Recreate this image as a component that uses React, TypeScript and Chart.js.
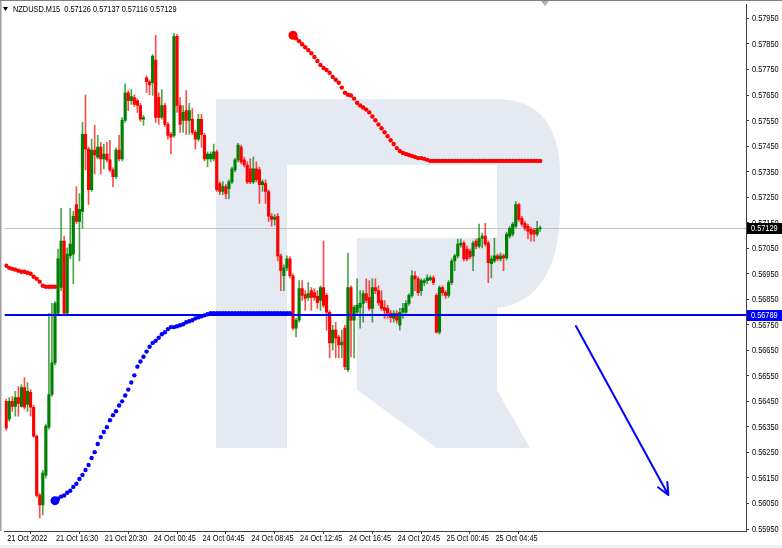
import React, { useEffect, useRef } from "react";
import { Chart, registerables } from "chart.js";

Chart.register(...registerables);

const TITLE = "NZDUSD.M15  0.57126 0.57137 0.57116 0.57129";

const OPEN = [
  0.56450, 0.56380, 0.56450, 0.56430, 0.56465, 0.56430, 0.56504, 0.56438, 0.56485, 0.56427,
  0.56314, 0.56082, 0.56044, 0.56161, 0.56349, 0.56477, 0.56601, 0.56795, 0.56896, 0.57078,
  0.56795, 0.57020, 0.57027, 0.57221, 0.57155, 0.57194, 0.57496, 0.57438, 0.57279, 0.57434,
  0.57407, 0.57446, 0.57400, 0.57419, 0.57396, 0.57357, 0.57330, 0.57434, 0.57400, 0.57551,
  0.57659, 0.57628, 0.57640, 0.57628, 0.57609, 0.57555, 0.57717, 0.57702, 0.57698, 0.57787,
  0.57640, 0.57562, 0.57609, 0.57535, 0.57496, 0.57492, 0.57880, 0.57609, 0.57551, 0.57589,
  0.57551, 0.57555, 0.57504, 0.57477, 0.57555, 0.57492, 0.57400, 0.57400, 0.57400, 0.57427,
  0.57303, 0.57272, 0.57291, 0.57283, 0.57310, 0.57357, 0.57396, 0.57446, 0.57396, 0.57376,
  0.57361, 0.57310, 0.57361, 0.57357, 0.57299, 0.57303, 0.57272, 0.57175, 0.57163, 0.57175,
  0.57020, 0.56942, 0.56973, 0.57008, 0.56942, 0.56737, 0.56768, 0.56892, 0.56868, 0.56857,
  0.56884, 0.56876, 0.56861, 0.56845, 0.56896, 0.56865, 0.56799, 0.56679, 0.56729, 0.56702,
  0.56671, 0.56737, 0.56574, 0.56896, 0.56768, 0.56799, 0.56818, 0.56834, 0.56872, 0.56857,
  0.56814, 0.56896, 0.56884, 0.56845, 0.56818, 0.56814, 0.56795, 0.56775, 0.56795, 0.56748,
  0.56799, 0.56799, 0.56834, 0.56865, 0.56942, 0.56930, 0.56884, 0.56915, 0.56923, 0.56927,
  0.56934, 0.56865, 0.56721, 0.56896, 0.56876, 0.56865, 0.56915, 0.57000, 0.57020, 0.57062,
  0.57070, 0.57047, 0.57039, 0.57020, 0.57078, 0.57058, 0.57089, 0.57097, 0.57070, 0.56989,
  0.57000, 0.57020, 0.57008, 0.57020, 0.57012, 0.57097, 0.57105, 0.57136, 0.57221, 0.57167,
  0.57147, 0.57136, 0.57124, 0.57120, 0.57105, 0.57126,
];

const HIGH = [
  0.56458, 0.56465, 0.56469, 0.56489, 0.56508, 0.56516, 0.56543, 0.56524, 0.56496, 0.56434,
  0.56318, 0.56090, 0.56180, 0.56361, 0.56795, 0.56834, 0.56841, 0.57047, 0.57206, 0.57097,
  0.57051, 0.57206, 0.57194, 0.57291, 0.57264, 0.57543, 0.57651, 0.57446, 0.57477, 0.57531,
  0.57492, 0.57465, 0.57458, 0.57465, 0.57473, 0.57365, 0.57442, 0.57492, 0.57562, 0.57694,
  0.57667, 0.57671, 0.57651, 0.57636, 0.57617, 0.57570, 0.57725, 0.57710, 0.57807, 0.57884,
  0.57659, 0.57671, 0.57617, 0.57543, 0.57504, 0.57892, 0.57888, 0.57640, 0.57609, 0.57667,
  0.57617, 0.57597, 0.57512, 0.57574, 0.57574, 0.57500, 0.57427, 0.57427, 0.57458, 0.57434,
  0.57310, 0.57310, 0.57299, 0.57318, 0.57368, 0.57403, 0.57461, 0.57454, 0.57407, 0.57388,
  0.57400, 0.57407, 0.57388, 0.57368, 0.57318, 0.57318, 0.57279, 0.57186, 0.57182, 0.57186,
  0.57027, 0.56985, 0.57020, 0.57016, 0.56950, 0.56775, 0.56923, 0.56923, 0.56884, 0.56915,
  0.56896, 0.56892, 0.56884, 0.56903, 0.57078, 0.56872, 0.56806, 0.56748, 0.56760, 0.56710,
  0.56729, 0.56748, 0.57031, 0.56903, 0.56826, 0.56930, 0.56884, 0.56884, 0.56930, 0.56923,
  0.56930, 0.56930, 0.56903, 0.56884, 0.56845, 0.56826, 0.56806, 0.56806, 0.56806, 0.56814,
  0.56834, 0.56845, 0.56872, 0.56962, 0.56958, 0.56938, 0.56930, 0.56930, 0.56946, 0.56942,
  0.56942, 0.56872, 0.56903, 0.56903, 0.56884, 0.56923, 0.57008, 0.57027, 0.57086, 0.57086,
  0.57078, 0.57058, 0.57047, 0.57078, 0.57086, 0.57144, 0.57109, 0.57147, 0.57078, 0.57020,
  0.57089, 0.57027, 0.57031, 0.57027, 0.57113, 0.57136, 0.57151, 0.57233, 0.57225, 0.57175,
  0.57155, 0.57144, 0.57132, 0.57128, 0.57155, 0.57137,
];

const LOW = [
  0.56337, 0.56372, 0.56411, 0.56392, 0.56392, 0.56427, 0.56419, 0.56411, 0.56392, 0.56310,
  0.56075, 0.55993, 0.56005, 0.56149, 0.56341, 0.56469, 0.56593, 0.56787, 0.56884, 0.56787,
  0.56787, 0.57008, 0.56911, 0.57147, 0.57000, 0.57128, 0.57357, 0.57221, 0.57272, 0.57341,
  0.57400, 0.57341, 0.57361, 0.57388, 0.57349, 0.57291, 0.57322, 0.57392, 0.57392, 0.57543,
  0.57589, 0.57613, 0.57605, 0.57582, 0.57547, 0.57531, 0.57659, 0.57651, 0.57648, 0.57543,
  0.57535, 0.57555, 0.57527, 0.57477, 0.57419, 0.57485, 0.57582, 0.57504, 0.57504, 0.57496,
  0.57496, 0.57496, 0.57438, 0.57469, 0.57446, 0.57392, 0.57368, 0.57388, 0.57392, 0.57272,
  0.57260, 0.57260, 0.57244, 0.57244, 0.57303, 0.57349, 0.57388, 0.57380, 0.57368, 0.57303,
  0.57303, 0.57303, 0.57310, 0.57225, 0.57272, 0.57225, 0.57155, 0.57136, 0.57140, 0.57000,
  0.56884, 0.56884, 0.56962, 0.56934, 0.56729, 0.56702, 0.56760, 0.56845, 0.56806, 0.56845,
  0.56806, 0.56845, 0.56814, 0.56806, 0.56818, 0.56729, 0.56620, 0.56651, 0.56620, 0.56620,
  0.56620, 0.56574, 0.56566, 0.56624, 0.56620, 0.56787, 0.56737, 0.56760, 0.56837, 0.56806,
  0.56760, 0.56872, 0.56826, 0.56806, 0.56775, 0.56775, 0.56760, 0.56760, 0.56756, 0.56729,
  0.56775, 0.56791, 0.56826, 0.56857, 0.56884, 0.56865, 0.56865, 0.56903, 0.56911, 0.56923,
  0.56907, 0.56717, 0.56713, 0.56865, 0.56853, 0.56857, 0.56907, 0.56962, 0.57012, 0.57054,
  0.57000, 0.57000, 0.57008, 0.56962, 0.57047, 0.57051, 0.57051, 0.57058, 0.56915, 0.56934,
  0.56993, 0.57000, 0.57000, 0.56962, 0.57004, 0.57089, 0.57097, 0.57128, 0.57155, 0.57136,
  0.57120, 0.57086, 0.57078, 0.57078, 0.57097, 0.57116,
];

const CLOSE = [
  0.56345, 0.56450, 0.56430, 0.56465, 0.56442, 0.56504, 0.56427, 0.56489, 0.56427, 0.56314,
  0.56082, 0.56044, 0.56169, 0.56353, 0.56477, 0.56601, 0.56834, 0.57008, 0.57078, 0.56795,
  0.57027, 0.57066, 0.57175, 0.57155, 0.57202, 0.57496, 0.57438, 0.57279, 0.57434, 0.57415,
  0.57446, 0.57400, 0.57419, 0.57396, 0.57357, 0.57330, 0.57434, 0.57400, 0.57551, 0.57659,
  0.57628, 0.57644, 0.57613, 0.57609, 0.57555, 0.57562, 0.57702, 0.57690, 0.57803, 0.57562,
  0.57562, 0.57609, 0.57535, 0.57492, 0.57485, 0.57880, 0.57609, 0.57535, 0.57582, 0.57551,
  0.57589, 0.57504, 0.57477, 0.57555, 0.57496, 0.57400, 0.57419, 0.57419, 0.57427, 0.57279,
  0.57272, 0.57291, 0.57264, 0.57310, 0.57361, 0.57396, 0.57454, 0.57388, 0.57376, 0.57310,
  0.57310, 0.57361, 0.57318, 0.57299, 0.57310, 0.57272, 0.57175, 0.57163, 0.57171, 0.57020,
  0.56963, 0.56973, 0.57008, 0.56942, 0.56737, 0.56768, 0.56892, 0.56865, 0.56853, 0.56872,
  0.56857, 0.56857, 0.56837, 0.56896, 0.56826, 0.56799, 0.56679, 0.56729, 0.56698, 0.56671,
  0.56682, 0.56586, 0.56896, 0.56768, 0.56818, 0.56826, 0.56834, 0.56872, 0.56845, 0.56814,
  0.56896, 0.56884, 0.56837, 0.56814, 0.56806, 0.56795, 0.56779, 0.56795, 0.56768, 0.56799,
  0.56814, 0.56834, 0.56865, 0.56942, 0.56930, 0.56876, 0.56923, 0.56923, 0.56934, 0.56934,
  0.56915, 0.56721, 0.56896, 0.56876, 0.56865, 0.56915, 0.57000, 0.57020, 0.57066, 0.57070,
  0.57008, 0.57008, 0.57016, 0.57070, 0.57058, 0.57089, 0.57097, 0.57066, 0.56993, 0.57008,
  0.57020, 0.57008, 0.57020, 0.57012, 0.57105, 0.57128, 0.57144, 0.57221, 0.57163, 0.57144,
  0.57128, 0.57117, 0.57105, 0.57105, 0.57128, 0.57129,
];

// red dotted indicator at the left edge (bars 0..16)
const RED_LEFT_START = 0;
const RED_LEFT = [
  0.56981, 0.56973, 0.56969, 0.56966, 0.56962, 0.56958, 0.56958, 0.56954, 0.56950, 0.56938,
  0.56930, 0.56919, 0.56903, 0.56899, 0.56899, 0.56899, 0.56899,
];

// blue dotted indicator (bars 16..93)
const BLUE_START = 16;
const BLUE_DOTS = [
  0.56061, 0.56069, 0.56077, 0.56081, 0.56092, 0.56100, 0.56115, 0.56127, 0.56146, 0.56162,
  0.56181, 0.56201, 0.56228, 0.56251, 0.56283, 0.56310, 0.56330, 0.56349, 0.56376, 0.56396,
  0.56411, 0.56434, 0.56450, 0.56473, 0.56496, 0.56524, 0.56552, 0.56586, 0.56606, 0.56625,
  0.56645, 0.56664, 0.56679, 0.56687, 0.56699, 0.56713, 0.56721, 0.56733, 0.56741, 0.56741,
  0.56744, 0.56748, 0.56752, 0.56760, 0.56764, 0.56768, 0.56775, 0.56779, 0.56783, 0.56787,
  0.56791, 0.56795, 0.56795, 0.56795, 0.56795, 0.56795, 0.56795, 0.56795, 0.56795, 0.56795,
  0.56795, 0.56795, 0.56795, 0.56795, 0.56795, 0.56795, 0.56795, 0.56795, 0.56795, 0.56795,
  0.56795, 0.56795, 0.56795, 0.56795, 0.56795, 0.56795, 0.56795, 0.56795,
];

// red dotted indicator (bars 94..175)
const RED_START = 94;
const RED_DOTS = [
  0.57884, 0.57872, 0.57861, 0.57849, 0.57837, 0.57826, 0.57814, 0.57799, 0.57783, 0.57768,
  0.57756, 0.57748, 0.57737, 0.57721, 0.57710, 0.57698, 0.57679, 0.57659, 0.57651, 0.57648,
  0.57636, 0.57620, 0.57609, 0.57601, 0.57593, 0.57582, 0.57566, 0.57551, 0.57535, 0.57520,
  0.57504, 0.57489, 0.57473, 0.57458, 0.57442, 0.57431, 0.57423, 0.57419, 0.57415, 0.57411,
  0.57407, 0.57403, 0.57403, 0.57400, 0.57396, 0.57392, 0.57392, 0.57392, 0.57392, 0.57392,
  0.57392, 0.57392, 0.57392, 0.57392, 0.57392, 0.57392, 0.57392, 0.57392, 0.57392, 0.57392,
  0.57392, 0.57392, 0.57392, 0.57392, 0.57392, 0.57392, 0.57392, 0.57392, 0.57392, 0.57392,
  0.57392, 0.57392, 0.57392, 0.57392, 0.57392, 0.57392, 0.57392, 0.57392, 0.57392, 0.57392,
  0.57392, 0.57392,
];

const X_TICK_INDEX = [0, 16, 32, 48, 64, 80, 96, 112, 128, 144, 160];
const X_TICK_LABELS = [
  "21 Oct 2022", "21 Oct 16:30", "21 Oct 20:30", "24 Oct 00:45", "24 Oct 04:45",
  "24 Oct 08:45", "24 Oct 12:45", "24 Oct 16:45", "24 Oct 20:45", "25 Oct 00:45", "25 Oct 04:45",
];
const Y_TICKS = [
  0.5595, 0.5605, 0.5615, 0.5625, 0.5635, 0.5645, 0.5655, 0.5665, 0.5675, 0.5685, 0.5695,
  0.5705, 0.5715, 0.5725, 0.5735, 0.5745, 0.5755, 0.5765, 0.5775, 0.5785, 0.5795,
];

const X_MIN = -0.55;
const X_MAX = 242.45;
const Y_MIN = 0.559422;
const Y_MAX = 0.580046;

const LAST_PRICE = 0.57129;
const LEVEL_PRICE = 0.56789;
const ARROW_X = [186.7, 217.0];
const ARROW_Y = [0.56745, 0.56083];

const FONT = '"Liberation Sans", Arial, sans-serif';
const NARROW = 0.82;
const UP = "#008000";
const DOWN = "#ff0000";
const UP_WICK = "rgba(0,128,0,0.7)";
const DOWN_WICK = "rgba(255,0,0,0.7)";
const WATERMARK = "#e4e9f2";

function narrowText(ctx: CanvasRenderingContext2D, text: string, x: number, y: number, color: string) {
  ctx.save();
  ctx.font = `9px ${FONT}`;
  ctx.fillStyle = color;
  ctx.textBaseline = "middle";
  ctx.textAlign = "left";
  ctx.translate(x, y);
  ctx.scale(NARROW, 1);
  ctx.fillText(text, 0, 0);
  ctx.restore();
}

function drawWatermark(ctx: CanvasRenderingContext2D) {
  ctx.fillStyle = WATERMARK;
  ctx.fillRect(216, 99, 71, 349);
  ctx.beginPath();
  ctx.moveTo(287, 99);
  ctx.lineTo(497, 99);
  ctx.quadraticCurveTo(560, 100, 560, 175);
  ctx.lineTo(560, 212);
  ctx.quadraticCurveTo(558, 300, 497, 308);
  ctx.lineTo(497, 165);
  ctx.lineTo(287, 165);
  ctx.closePath();
  ctx.fill();
  ctx.beginPath();
  ctx.moveTo(357, 238);
  ctx.lineTo(497, 238);
  ctx.lineTo(497, 390);
  ctx.lineTo(530, 448);
  ctx.lineTo(437, 448);
  ctx.lineTo(357, 390);
  ctx.closePath();
  ctx.fill();
}

function priceBox(ctx: CanvasRenderingContext2D, y: number, text: string, bg: string) {
  const yy = Math.round(y);
  ctx.fillStyle = bg;
  ctx.fillRect(747, yy - 5, 35, 11);
  narrowText(ctx, text, 751, yy + 0.5, "#ffffff");
}

const overlayPlugin = {
  id: "overlay",
  beforeDraw(chart: any) {
    const { ctx, width, height } = chart;
    ctx.save();
    ctx.fillStyle = "#ffffff";
    ctx.fillRect(0, 0, width, height);
    ctx.fillStyle = "#f0f0f0";
    ctx.fillRect(0, height - 3, width, 3);
    ctx.restore();
  },
  beforeDatasetsDraw(chart: any) {
    const { ctx, chartArea: a, scales } = chart;
    ctx.save();
    ctx.beginPath();
    ctx.rect(a.left, a.top, a.right - a.left, a.bottom - a.top);
    ctx.clip();
    drawWatermark(ctx);
    const yl = Math.round(scales.y.getPixelForValue(LAST_PRICE)) + 0.5;
    ctx.strokeStyle = "#c0c0c0";
    ctx.lineWidth = 1;
    ctx.beginPath();
    ctx.moveTo(a.left, yl);
    ctx.lineTo(a.right, yl);
    ctx.stroke();
    ctx.restore();
  },
  afterDatasetsDraw(chart: any) {
    const { ctx, chartArea: a, scales } = chart;
    ctx.save();
    ctx.beginPath();
    ctx.rect(a.left, a.top, a.right - a.left, a.bottom - a.top);
    ctx.clip();
    const yb = Math.round(scales.y.getPixelForValue(LEVEL_PRICE));
    ctx.strokeStyle = "#0000ff";
    ctx.lineWidth = 2;
    ctx.beginPath();
    ctx.moveTo(a.left, yb);
    ctx.lineTo(a.right, yb);
    ctx.stroke();
    const x0 = scales.x.getPixelForValue(ARROW_X[0]);
    const y0 = scales.y.getPixelForValue(ARROW_Y[0]);
    const x1 = scales.x.getPixelForValue(ARROW_X[1]);
    const y1 = scales.y.getPixelForValue(ARROW_Y[1]);
    ctx.lineWidth = 2;
    ctx.lineCap = "round";
    ctx.beginPath();
    ctx.moveTo(x0, y0);
    ctx.lineTo(x1, y1);
    const ang = Math.atan2(y1 - y0, x1 - x0);
    const len = 13;
    const spread = 0.42;
    ctx.moveTo(x1, y1);
    ctx.lineTo(x1 - len * Math.cos(ang - spread), y1 - len * Math.sin(ang - spread));
    ctx.moveTo(x1, y1);
    ctx.lineTo(x1 - len * Math.cos(ang + spread), y1 - len * Math.sin(ang + spread));
    ctx.stroke();
    ctx.restore();
  },
  afterDraw(chart: any) {
    const { ctx, scales, chartArea: a } = chart;
    ctx.save();
    // axis labels
    Y_TICKS.forEach((v) => {
      narrowText(ctx, v.toFixed(5), a.right + 6, scales.y.getPixelForValue(v) + 0.5, "#000000");
    });
    X_TICK_INDEX.forEach((v, i) => {
      narrowText(ctx, X_TICK_LABELS[i], scales.x.getPixelForValue(v) + 1, a.bottom + 7.5, "#000000");
    });
    priceBox(ctx, scales.y.getPixelForValue(LAST_PRICE), LAST_PRICE.toFixed(5), "#000000");
    priceBox(ctx, scales.y.getPixelForValue(LEVEL_PRICE), LEVEL_PRICE.toFixed(5), "#0000ff");
    // frame
    ctx.fillStyle = "#a0a0a0";
    ctx.fillRect(0, 0, 1.5, a.bottom);
    ctx.fillStyle = "#808080";
    ctx.fillRect(0, 0, chart.width, 1);
    ctx.fillStyle = "#b0b0b0";
    ctx.beginPath();
    ctx.moveTo(541, 1);
    ctx.lineTo(549, 1);
    ctx.lineTo(545, 6);
    ctx.closePath();
    ctx.fill();
    // title
    ctx.fillStyle = "#000000";
    ctx.beginPath();
    ctx.moveTo(3, 7);
    ctx.lineTo(8, 7);
    ctx.lineTo(5.5, 11);
    ctx.closePath();
    ctx.fill();
    narrowText(ctx, TITLE, 13, 9.5, "#000000");
    ctx.restore();
  },
};

export default function App() {
  const ref = useRef<HTMLCanvasElement | null>(null);

  useEffect(() => {
    const canvas = ref.current;
    if (!canvas) return;
    const idx = OPEN.map((_, i) => i);
    const up = idx.map((i) => CLOSE[i] >= OPEN[i]);
    const wicks = idx.map((i) => ({ x: i, y: [LOW[i], HIGH[i]] }));
    const bodies = idx.map((i) => ({ x: i, y: [OPEN[i], CLOSE[i]] }));
    const redLeft = RED_LEFT.map((v, k) => ({ x: RED_LEFT_START + k, y: v }));
    const blue = BLUE_DOTS.map((v, k) => ({ x: BLUE_START + k, y: v }));
    const red = RED_DOTS.map((v, k) => ({ x: RED_START + k, y: v }));

    const dots = (data: any[], color: string, big: boolean) => ({
      type: "line",
      data,
      showLine: false,
      pointRadius: (c: any) => (big && c.dataIndex === 0 ? 4.5 : 2.2),
      pointBackgroundColor: color,
      pointBorderColor: color,
      pointBorderWidth: 0,
      order: 0,
    });

    const chart = new Chart(canvas, {
      type: "bar",
      data: {
        datasets: [
          dots(red, "#ff0000", true) as any,
          dots(redLeft, "#ff0000", false) as any,
          dots(blue, "#0000ff", true) as any,
          {
            type: "bar",
            data: bodies,
            backgroundColor: up.map((u) => (u ? UP : DOWN)),
            borderWidth: 0,
            barThickness: 2.5,
            grouped: false,
            minBarLength: 1,
            order: 1,
          } as any,
          {
            type: "bar",
            data: wicks,
            backgroundColor: up.map((u) => (u ? UP_WICK : DOWN_WICK)),
            borderWidth: 0,
            barThickness: 1,
            grouped: false,
            minBarLength: 1,
            order: 2,
          } as any,
        ],
      },
      options: {
        responsive: false,
        animation: false,
        devicePixelRatio: 1,
        events: [],
        layout: { padding: { left: 1, top: 2, right: 0, bottom: 0 } },
        plugins: { legend: { display: false }, tooltip: { enabled: false } },
        scales: {
          x: {
            type: "linear",
            position: "bottom",
            min: X_MIN,
            max: X_MAX,
            offset: false,
            grid: { display: true, drawOnChartArea: false, drawTicks: true, tickLength: 3, color: "#404040", lineWidth: 1 },
            border: { display: true, color: "#404040", width: 1 },
            ticks: { display: false, autoSkip: false },
            afterBuildTicks: (s: any) => {
              s.ticks = X_TICK_INDEX.map((v) => ({ value: v }));
            },
            afterFit: (s: any) => {
              s.height = 17;
              s.paddingLeft = 0;
              s.paddingRight = 0;
            },
          },
          y: {
            type: "linear",
            position: "right",
            min: Y_MIN,
            max: Y_MAX,
            grid: { display: true, drawOnChartArea: false, drawTicks: true, tickLength: 3, color: "#404040", lineWidth: 1 },
            border: { display: true, color: "#404040", width: 1 },
            ticks: { display: false, autoSkip: false },
            afterBuildTicks: (s: any) => {
              s.ticks = Y_TICKS.map((v) => ({ value: v }));
            },
            afterFit: (s: any) => {
              s.width = 36;
              s.paddingTop = 0;
              s.paddingBottom = 0;
            },
          },
        },
      } as any,
      plugins: [overlayPlugin],
    });
    return () => chart.destroy();
  }, []);

  return (
    <div style={{ position: "fixed", left: 0, top: 0, width: 782, height: 548, background: "#ffffff" }}>
      <canvas ref={ref} width={782} height={548} style={{ display: "block", width: 782, height: 548 }} />
    </div>
  );
}
